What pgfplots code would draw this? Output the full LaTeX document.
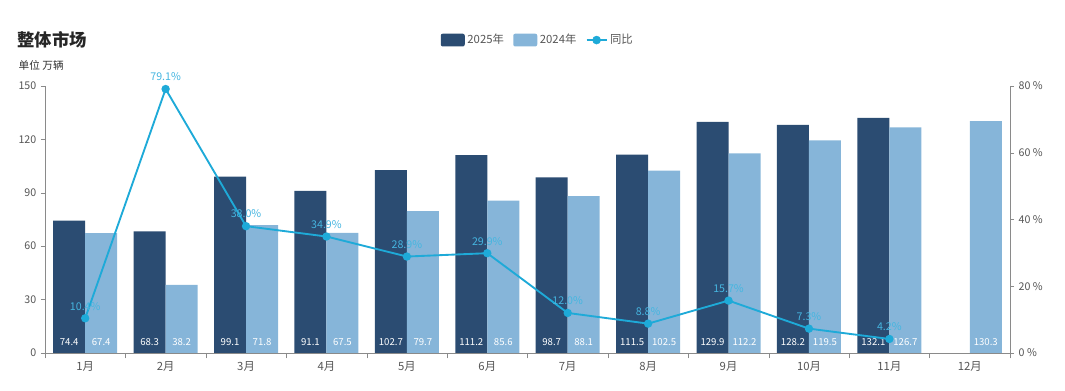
\documentclass[border=0pt]{standalone}
\usepackage{fontspec}
\setmainfont{Noto Sans CJK SC}
\usepackage{pgfplots}
\usepackage{pgfplotstable}
\pgfplotsset{compat=1.18}
\definecolor{dark}{HTML}{2B4C72}
\definecolor{light}{HTML}{86B5D9}
\definecolor{cyanl}{HTML}{1EAAD8}
\definecolor{cyant}{HTML}{45B5E0}
\definecolor{axgray}{HTML}{8A8A8A}
\definecolor{txtgray}{HTML}{555555}

\pgfplotstableread{
x v
0 74.4
1 68.3
2 99.1
3 91.1
4 102.7
5 111.2
6 98.7
7 111.5
8 129.9
9 128.2
10 132.1
}\tdark
\pgfplotstableread{
x v
0 67.4
1 38.2
2 71.8
3 67.5
4 79.7
5 85.6
6 88.1
7 102.5
8 112.2
9 119.5
10 126.7
11 130.3
}\tlight
\pgfplotstableread{
x p
0 10.4
1 79.1
2 38.0
3 34.9
4 28.9
5 29.9
6 12.0
7 8.8
8 15.7
9 7.3
10 4.2
}\tline

\pgfplotsset{
  darkleg/.style={legend image code/.code={\fill[dark, rounded corners=1.5pt] (0pt,-4.8pt) rectangle (18pt,4.8pt);}},
  lightleg/.style={legend image code/.code={\fill[light, rounded corners=1.5pt] (0pt,-4.8pt) rectangle (18pt,4.8pt);}},
  lineleg/.style={legend image code/.code={\draw[cyanl, line width=1.3pt] (0pt,0pt) -- (15pt,0pt); \fill[cyanl] (7.5pt,0pt) circle (3pt);}},
  base/.style={
    at={(33.75pt,28.5pt)}, anchor=south west,
    scale only axis, width=723.75pt, height=200.25pt,
    xmin=-0.5, xmax=11.5,
    /pgf/number format/assume math mode=true,
    axis line style={axgray},
    tick style={axgray},
    tick label style={text=txtgray, font=\fontsize{8}{9}\selectfont},
    tick align=outside,
    clip=false,
  },
  barlab/.style={
    visualization depends on={y \as \rawy},
    nodes near coords={\pgfmathprintnumber[fixed,precision=1]{\pgfplotspointmeta}},
    point meta=y,
    nodes near coords style={text=white, anchor=south, inner sep=1pt, font=\fontsize{7.2}{8}\selectfont,
      shift={(axis direction cs:0,-\rawy)}, yshift=4pt, xshift=#1},
  },
}

\begin{document}
\begin{tikzpicture}
\useasboundingbox (0,0) rectangle (798.75pt,293.25pt);
\node[anchor=west, font=\bfseries\fontsize{13}{15}\selectfont, text=black!85] at (9.5pt,263.5pt) {整体市场};
\node[anchor=west, font=\fontsize{8}{9}\selectfont, text=black!80] at (10.5pt,244pt) {单位 万辆};

\begin{axis}[base,
  ymin=0, ymax=150,
  axis y line*=left, axis x line*=bottom,
  ytick={0,30,...,150},
  xtick={0,...,11},
  xticklabels={1月,2月,3月,4月,5月,6月,7月,8月,9月,10月,11月,12月},
  x tick label style={font=\fontsize{8.5}{9}\selectfont},
  minor xtick={-0.5,0.5,...,11.5},
  major x tick style={draw=none},
  minor tick length=4pt,
  major tick length=3pt,
  legend columns=3,
  legend style={at={(0.511,1.172)}, anchor=center, draw=none, fill=none,
    font=\fontsize{8.5}{9}\selectfont, text=txtgray,
    /tikz/every even column/.append style={column sep=5pt}},
]
\addplot[ybar, bar width=24pt, bar shift=-12pt, fill=dark, draw=none, darkleg, barlab=-12pt]
  table[x=x,y=v] {\tdark};
\addlegendentry{2025年}
\addplot[ybar, bar width=24pt, bar shift=12pt, fill=light, draw=none, lightleg, barlab=12pt]
  table[x=x,y=v] {\tlight};
\addlegendentry{2024年}
\addlegendimage{lineleg}
\addlegendentry{同比}
\end{axis}

\begin{axis}[base,
  ymin=0, ymax=80,
  axis y line*=right, axis x line=none,
  ytick={0,20,...,80},
  yticklabels={0 \%,20 \%,40 \%,60 \%,80 \%},
  major tick length=3pt,
]
\addplot[cyanl, line width=1.4pt, mark=*, mark size=2.4pt, mark options={fill=cyanl, draw=cyanl},
  nodes near coords={\pgfmathprintnumber[fixed,precision=1,fixed zerofill]{\pgfplotspointmeta}\%},
  point meta=y,
  nodes near coords style={text=cyant, anchor=south, font=\fontsize{8}{9}\selectfont, yshift=2pt},
] table[x=x,y=p] {\tline};
\end{axis}
\end{tikzpicture}
\end{document}
